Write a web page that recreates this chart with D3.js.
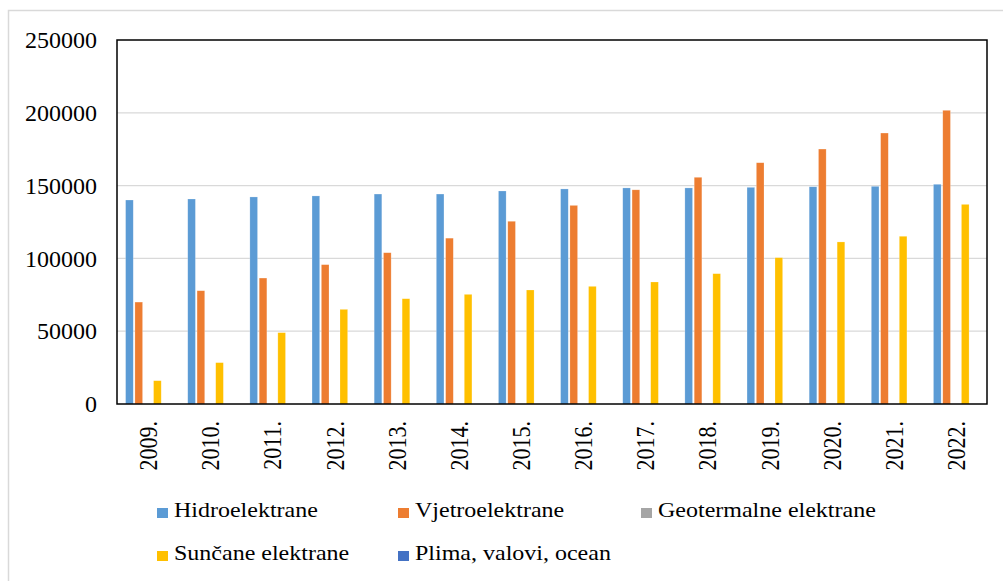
<!DOCTYPE html>
<html lang="en">
<head>
<meta charset="utf-8">
<title>Elektrane</title>
<script src="https://cdn.jsdelivr.net/npm/d3@7"></script>
<style>
body { margin: 0; background: #fff; }
svg text { font-family: "Liberation Serif", "Times New Roman", serif; fill: #000; }
</style>
</head>
<body>
<script>
var years = ["2009.", "2010.", "2011.", "2012.", "2013.", "2014.", "2015.", "2016.", "2017.", "2018.", "2019.", "2020.", "2021.", "2022."];
var seriesNames = ["Hidroelektrane", "Vjetroelektrane", "Geotermalne elektrane", "Sunčane elektrane", "Plima, valovi, ocean"];
var seriesColors = ["#5b9bd5", "#ed7d31", "#a5a5a5", "#ffc000", "#4472c4"];

var hidro  = [140100, 140800, 142200, 142900, 144200, 144200, 146300, 147700, 148400, 148400, 148800, 149200, 149500, 150900];
var vjetro = [70000, 77800, 86500, 95700, 103900, 113900, 125500, 136400, 147100, 155700, 165700, 175100, 186100, 201700];
var geo    = [0, 0, 0, 0, 0, 0, 0, 0, 0, 0, 0, 0, 0, 0];
var sunce  = [16000, 28400, 49000, 65000, 72300, 75300, 78300, 80800, 83800, 89500, 100500, 111300, 115200, 137100];
var plima  = [0, 0, 0, 0, 0, 0, 0, 0, 0, 0, 0, 0, 0, 0];
var yTicks = [0, 50000, 100000, 150000, 200000, 250000];

var series = [hidro, vjetro, geo, sunce, plima];

var W = 1003, H = 581;
var plotL = 117, plotR = 987, plotT = 40, plotB = 404;
var serif = "'Liberation Serif', 'Times New Roman', serif";

var svg = d3.select("body").append("svg")
  .attr("width", W)
  .attr("height", H);

// outer frame
svg.append("rect")
  .attr("x", 8.5).attr("y", 10.5)
  .attr("width", W).attr("height", H)
  .attr("fill", "none")
  .attr("stroke", "#d9d9d9")
  .attr("stroke-width", 1.5);

var x = d3.scaleBand().domain(years).range([plotL, plotR]).padding(0);
var bw = x.bandwidth();
var x1 = d3.scaleBand().domain(d3.range(series.length))
  .range([bw * 0.125, bw * 0.875]).paddingInner(0.18).paddingOuter(0.09);
var y = d3.scaleLinear().domain([0, 250000]).range([plotB, plotT]);

// gridlines
svg.append("g").selectAll("line")
  .data(yTicks.slice(1, -1))
  .enter().append("line")
  .attr("x1", plotL).attr("x2", plotR)
  .attr("y1", function(d) { return y(d); })
  .attr("y2", function(d) { return y(d); })
  .attr("stroke", "#d9d9d9")
  .attr("stroke-width", 1.3);

// bars
var groups = svg.append("g").selectAll("g")
  .data(series)
  .enter().append("g")
  .attr("fill", function(d, i) { return seriesColors[i]; });

groups.each(function(vals, si) {
  d3.select(this).selectAll("rect")
    .data(vals)
    .enter().append("rect")
    .attr("x", function(d, i) { return x(years[i]) + x1(si); })
    .attr("width", x1.bandwidth())
    .attr("y", function(d) { return y(d); })
    .attr("height", function(d) { return y(0) - y(d); })
    .attr("stroke", "#fff")
    .attr("stroke-opacity", 0.35)
    .attr("stroke-width", 0.6);
});

// plot border
svg.append("rect")
  .attr("x", plotL).attr("y", plotT)
  .attr("width", plotR - plotL).attr("height", plotB - plotT)
  .attr("fill", "none")
  .attr("stroke", "#000")
  .attr("stroke-width", 1.5);

// y axis labels
var yAxis = d3.axisLeft(y).tickValues(yTicks).tickSize(0).tickPadding(20).tickFormat(d3.format("d"));
svg.append("g")
  .attr("transform", "translate(" + plotL + ",0)")
  .call(yAxis)
  .call(function(g) { g.select(".domain").remove(); })
  .selectAll("text")
  .style("font-family", serif)
  .style("font-size", "24px")
  .attr("fill", "#000");

// x axis labels (slightly stretched like the original)
var xAxis = d3.axisBottom(x).tickSize(0).tickPadding(0);
svg.append("g")
  .attr("transform", "translate(0," + plotB + ")")
  .call(xAxis)
  .call(function(g) { g.select(".domain").remove(); })
  .selectAll("text")
  .style("font-family", serif)
  .style("font-size", "22px")
  .attr("fill", "#000")
  .attr("text-anchor", "end")
  .attr("dy", null)
  .attr("y", 0)
  .attr("transform", "translate(9,17) rotate(-90) scale(1,1.15)");

// legend
var legendPos = [[157, 517], [398, 517], [641, 517], [157, 560], [398, 560]];
var legend = svg.append("g").selectAll("g")
  .data(seriesNames)
  .enter().append("g")
  .attr("transform", function(d, i) { return "translate(" + legendPos[i][0] + "," + legendPos[i][1] + ")"; });

legend.append("rect")
  .attr("x", 0).attr("y", -9)
  .attr("width", 11).attr("height", 10)
  .attr("fill", function(d, i) { return seriesColors[i]; });

legend.append("text")
  .attr("transform", "translate(17,0) scale(1,0.84)")
  .style("font-family", serif)
  .style("font-size", "24px")
  .text(String);
</script>
</body>
</html>
